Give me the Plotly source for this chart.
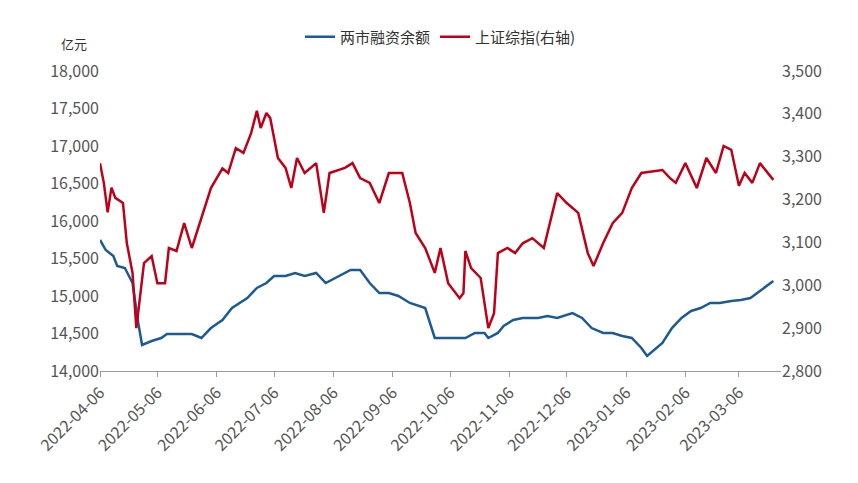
import plotly.graph_objects as go

red_dates = ["2022-04-06","2022-04-08","2022-04-10","2022-04-12","2022-04-14","2022-04-18","2022-04-20","2022-04-23","2022-04-25","2022-04-27","2022-04-29","2022-05-03","2022-05-06","2022-05-10","2022-05-12","2022-05-16","2022-05-20","2022-05-24","2022-05-29","2022-06-03","2022-06-09","2022-06-12","2022-06-16","2022-06-20","2022-06-24","2022-06-27","2022-06-29","2022-07-02","2022-07-04","2022-07-08","2022-07-12","2022-07-15","2022-07-18","2022-07-22","2022-07-28","2022-08-01","2022-08-04","2022-08-12","2022-08-16","2022-08-20","2022-08-25","2022-08-30","2022-09-04","2022-09-11","2022-09-15","2022-09-18","2022-09-23","2022-09-28","2022-10-01","2022-10-05","2022-10-11","2022-10-13","2022-10-14","2022-10-17","2022-10-22","2022-10-26","2022-10-29","2022-10-31","2022-11-05","2022-11-09","2022-11-13","2022-11-18","2022-11-24","2022-11-28","2022-12-01","2022-12-06","2022-12-12","2022-12-17","2022-12-20","2022-12-25","2022-12-30","2023-01-04","2023-01-09","2023-01-14","2023-01-25","2023-01-29","2023-02-01","2023-02-06","2023-02-12","2023-02-17","2023-02-22","2023-02-26","2023-03-02","2023-03-06","2023-03-09","2023-03-13","2023-03-17","2023-03-24"]
sh_index = [3285,3239,3170,3228,3204,3192,3099,3029,2900,2970,3052,3068,3005,3005,3087,3080,3145,3087,3157,3227,3273,3262,3320,3309,3355,3407,3367,3402,3390,3297,3274,3227,3297,3262,3285,3169,3262,3274,3285,3250,3239,3192,3262,3262,3192,3122,3087,3029,3087,3005,2970,2982,3080,3040,3017,2900,2935,3075,3087,3075,3098,3110,3087,3157,3215,3192,3169,3075,3045,3098,3145,3169,3227,3262,3269,3250,3239,3285,3227,3297,3262,3325,3316,3232,3262,3239,3285,3246]

blue_dates = ["2022-04-06","2022-04-09","2022-04-13","2022-04-15","2022-04-19","2022-04-23","2022-04-26","2022-04-28","2022-05-03","2022-05-08","2022-05-11","2022-05-19","2022-05-24","2022-05-29","2022-06-03","2022-06-09","2022-06-14","2022-06-22","2022-06-27","2022-07-02","2022-07-06","2022-07-12","2022-07-17","2022-07-22","2022-07-28","2022-08-02","2022-08-07","2022-08-15","2022-08-20","2022-08-25","2022-08-30","2022-09-04","2022-09-09","2022-09-15","2022-09-23","2022-09-28","2022-10-09","2022-10-14","2022-10-19","2022-10-24","2022-10-26","2022-10-31","2022-11-03","2022-11-08","2022-11-13","2022-11-21","2022-11-26","2022-12-01","2022-12-09","2022-12-14","2022-12-19","2022-12-25","2022-12-30","2023-01-04","2023-01-09","2023-01-14","2023-01-17","2023-01-25","2023-01-30","2023-02-04","2023-02-09","2023-02-14","2023-02-19","2023-02-24","2023-03-02","2023-03-07","2023-03-12","2023-03-17","2023-03-24"]
margin_bal = [15747,15613,15533,15400,15373,15173,14640,14347,14400,14440,14493,14493,14493,14440,14573,14680,14840,14973,15107,15173,15267,15267,15307,15267,15307,15173,15240,15347,15347,15173,15040,15040,15000,14907,14840,14440,14440,14440,14507,14507,14440,14507,14600,14680,14707,14707,14733,14707,14773,14707,14573,14507,14507,14467,14440,14307,14200,14373,14573,14707,14800,14840,14907,14907,14933,14947,14973,15067,15200]

tick_dates = ["2022-04-06","2022-05-06","2022-06-06","2022-07-06","2022-08-06","2022-09-06","2022-10-06","2022-11-06","2022-12-06","2023-01-06","2023-02-06","2023-03-06"]

fig = go.Figure()
fig.add_trace(go.Scatter(x=blue_dates, y=margin_bal, name="两市融资余额", mode="lines",
                         line=dict(color="#1B5A94", width=2.5)))
fig.add_trace(go.Scatter(x=red_dates, y=sh_index, name="上证综指(右轴)", mode="lines",
                         line=dict(color="#C00018", width=2.5), yaxis="y2"))
font = dict(family="Noto Sans CJK SC, Arial", size=16, color="#555")
fig.update_layout(
    width=858, height=483, plot_bgcolor="white", paper_bgcolor="white",
    margin=dict(l=92, r=85, t=63, b=120, autoexpand=False), font=font,
    legend=dict(orientation="h", x=0.5, xanchor="center", yref="container", y=0.94, yanchor="middle",
                font=dict(size=15, color="#333")),
    xaxis=dict(range=["2022-04-06", "2023-03-28"], tickvals=tick_dates, ticktext=tick_dates,
               tickangle=-45, showgrid=False, showline=True, linecolor="#999",
               ticks="outside", ticklen=5, tickcolor="#999", tickfont=dict(size=16, color="#555")),
    yaxis=dict(range=[14000, 18000], dtick=500, tickformat=",", showgrid=False,
               showline=False, tickfont=dict(size=16, color="#555")),
    yaxis2=dict(range=[2800, 3500], dtick=100, tickformat=",", overlaying="y", side="right",
                showgrid=False, showline=False, tickfont=dict(size=16, color="#555")),
    annotations=[dict(text="亿元", xref="paper", yref="paper", x=-0.06, y=1.13,
                      showarrow=False, font=dict(size=13, color="#333"))],
)
fig.write_html("out.html")
